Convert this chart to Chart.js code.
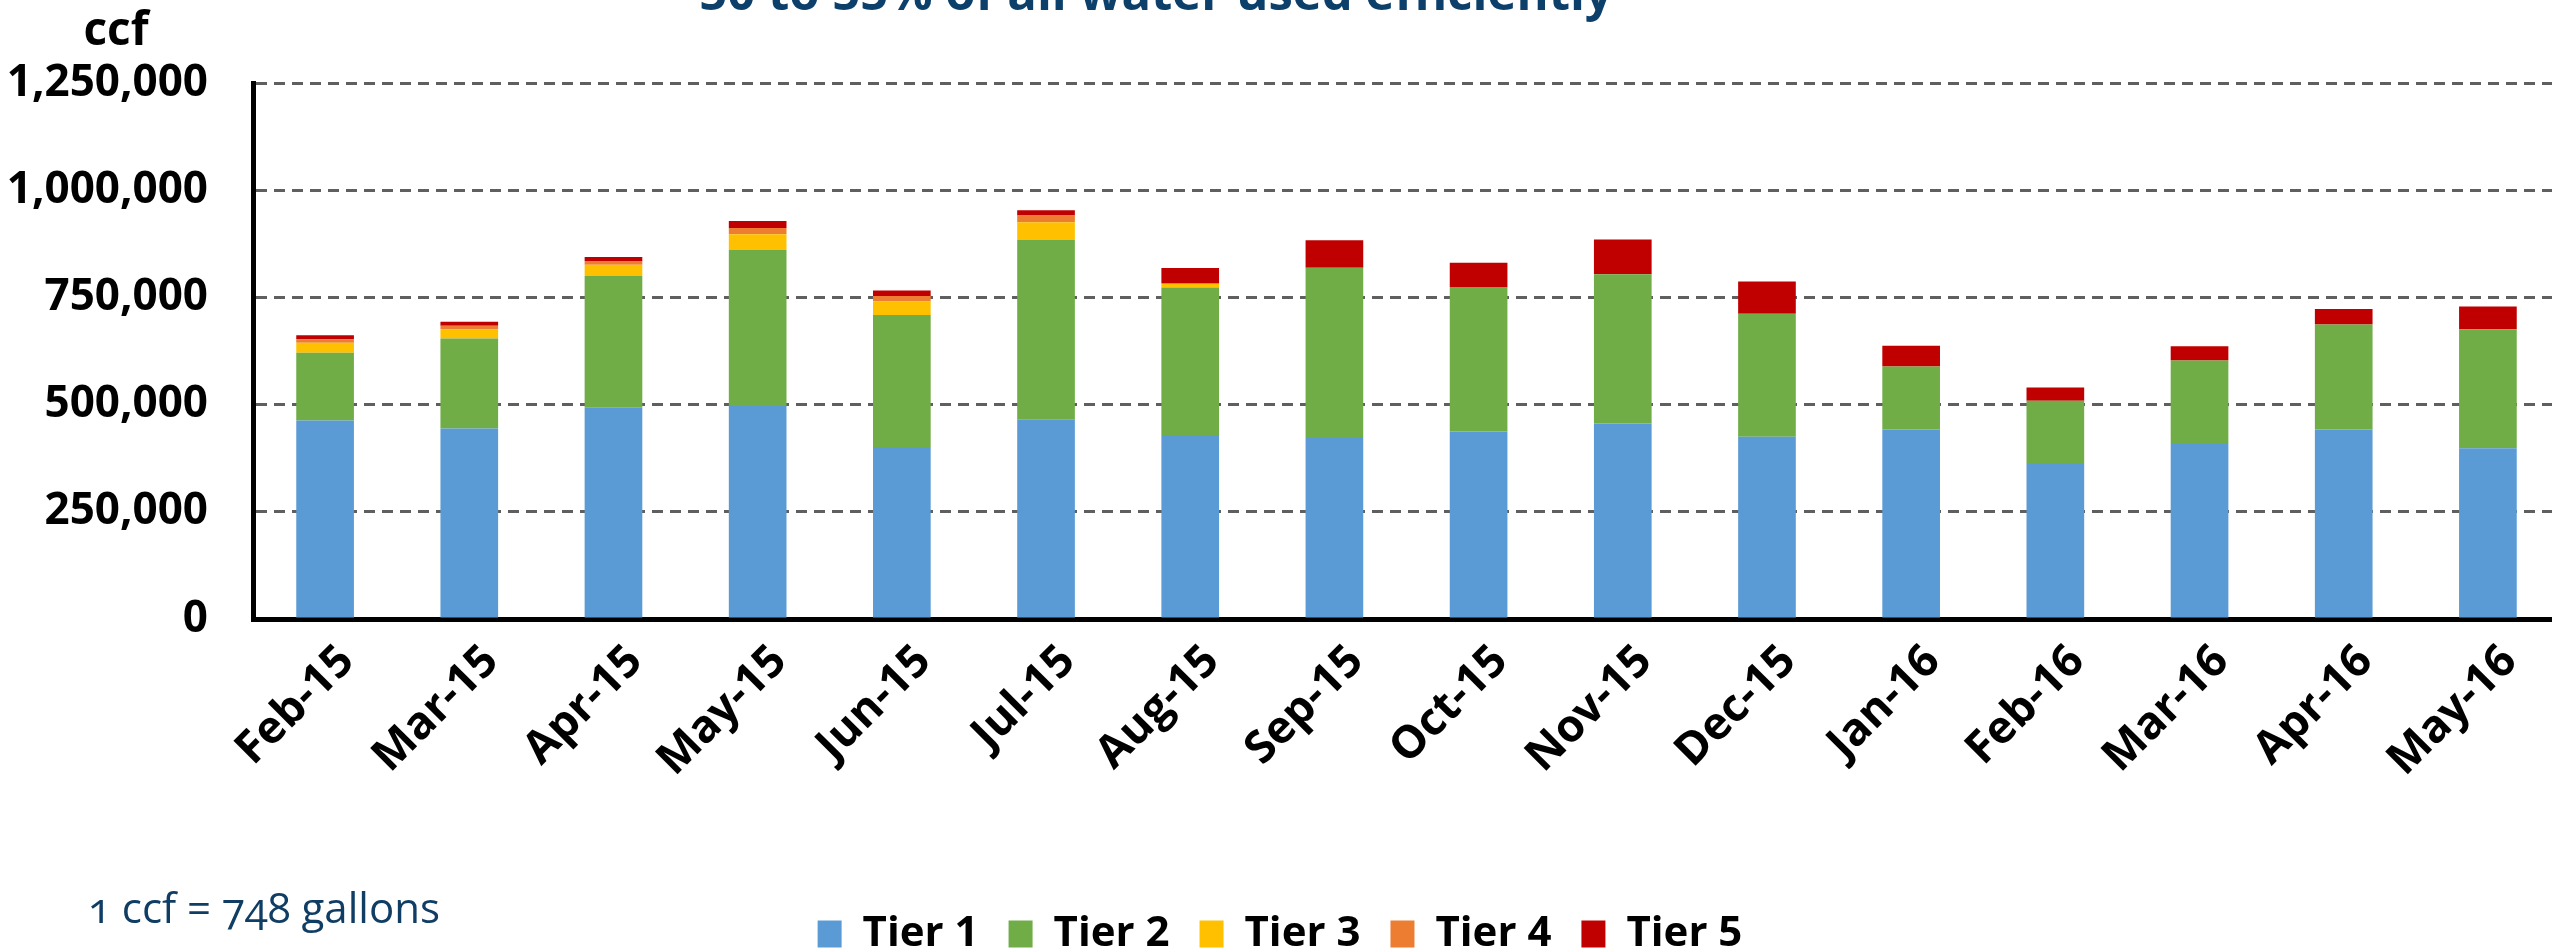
<!DOCTYPE html>
<html>
<head>
<meta charset="utf-8">
<script src="https://cdn.jsdelivr.net/npm/chart.js@4"></script>
<style>
  html, body { margin: 0; padding: 0; background: #fff; overflow: hidden; width: 2552px; height: 949px; }
  #wrap { position: relative; width: 2560px; height: 949px; }
  canvas { position: absolute; left: 0; top: 0; }
  .txt { position: absolute; font-family: 'Open Sans', sans-serif; white-space: nowrap; }
  #title { left: 556px; width: 1200px; top: -33px; text-align: center; font-size: 49px; line-height: 49px; font-weight: bold; color: #0c406b; }
  #unit { left: 66px; width: 100px; top: 4px; text-align: center; font-size: 46px; line-height: 46px; font-weight: bold; color: #000; }
  #note { left: 88px; top: 886px; font-size: 42px; line-height: 42px; color: #0f3d64; font-variant-numeric: oldstyle-nums; }
</style>
</head>
<body>
<div id="wrap">
  <canvas id="chart" width="2560" height="949"></canvas>
  <div class="txt" id="title">50 to 55% of all water used efficiently</div>
  <div class="txt" id="unit">ccf</div>
  <div class="txt" id="note">1 ccf = 748 gallons</div>
</div>
<script>
const months = ['Feb-15', 'Mar-15', 'Apr-15', 'May-15', 'Jun-15', 'Jul-15', 'Aug-15', 'Sep-15',
  'Oct-15', 'Nov-15', 'Dec-15', 'Jan-16', 'Feb-16', 'Mar-16', 'Apr-16', 'May-16']

const tier1 = [463000, 444000, 494000, 497000, 401000, 466000, 429000, 422000,
  437000, 456000, 425000, 442000, 364000, 408000, 442000, 398000]
const tier2 = [158000, 210000, 306000, 364000, 308000, 418000, 344000, 397000,
  337000, 348000, 287000, 147000, 145000, 195000, 245000, 278000]
const tier3 = [23000, 22000, 26000, 36000, 32000, 41000, 8000, 0,
  0, 0, 0, 0, 0, 0, 0, 0]
const tier4 = [8500, 8000, 9000, 15000, 12500, 16000, 2500, 0,
  0, 0, 0, 0, 0, 0, 0, 0]
const tier5 = [9000, 9000, 9000, 16000, 12500, 12000, 35000, 64000,
  57000, 81000, 75000, 48000, 31000, 33000, 36000, 53000]

const yTicks = [0, 250000, 500000, 750000, 1000000, 1250000]

const tiers = [
  { label: 'Tier 1', data: tier1, color: '#5b9bd5' },
  { label: 'Tier 2', data: tier2, color: '#70ad47' },
  { label: 'Tier 3', data: tier3, color: '#ffc000' },
  { label: 'Tier 4', data: tier4, color: '#ed7d31' },
  { label: 'Tier 5', data: tier5, color: '#c00000' }
]

const bold = (size) => ({ family: 'Open Sans', size: size, weight: 'bold' })
const padBottom = -16

const ctx = document.getElementById('chart').getContext('2d')
new Chart(ctx, {
  type: 'bar',
  data: {
    labels: months,
    datasets: tiers.map(t => ({
      label: t.label,
      data: t.data,
      backgroundColor: t.color,
      borderWidth: 0,
      categoryPercentage: 1,
      barPercentage: 0.4
    }))
  },
  options: {
    responsive: false,
    animation: false,
    layout: { padding: { top: 83, left: 0, right: 0, bottom: padBottom } },
    scales: {
      x: {
        stacked: true,
        grid: { display: false },
        border: { display: true, color: '#000', width: 5 },
        ticks: {
          color: '#000',
          font: bold(45),
          minRotation: 45,
          maxRotation: 45,
          padding: 8,
          labelOffset: 22
        },
        afterFit: (scale) => {
          scale.paddingLeft = 0
          scale.paddingRight = 0
          scale.height = 949 - 619 - padBottom - scale.chart.legend.height
        }
      },
      y: {
        stacked: true,
        min: 0,
        max: yTicks[yTicks.length - 1],
        afterBuildTicks: (scale) => { scale.ticks = yTicks.map(v => ({ value: v })) },
        grid: { color: '#5f5f5f', lineWidth: 3, drawTicks: false },
        border: { display: true, color: '#000', width: 5, dash: [11, 7] },
        ticks: {
          color: '#000',
          font: bold(44),
          padding: 45,
          callback: (v) => v.toLocaleString('en-US')
        },
        afterFit: (scale) => { scale.width = 253 }
      }
    },
    plugins: {
      legend: {
        position: 'bottom',
        labels: {
          color: '#000',
          font: bold(42),
          boxWidth: 24,
          boxHeight: 27,
          padding: 30
        }
      },
      tooltip: { enabled: false }
    }
  }
})
</script>
</body>
</html>
